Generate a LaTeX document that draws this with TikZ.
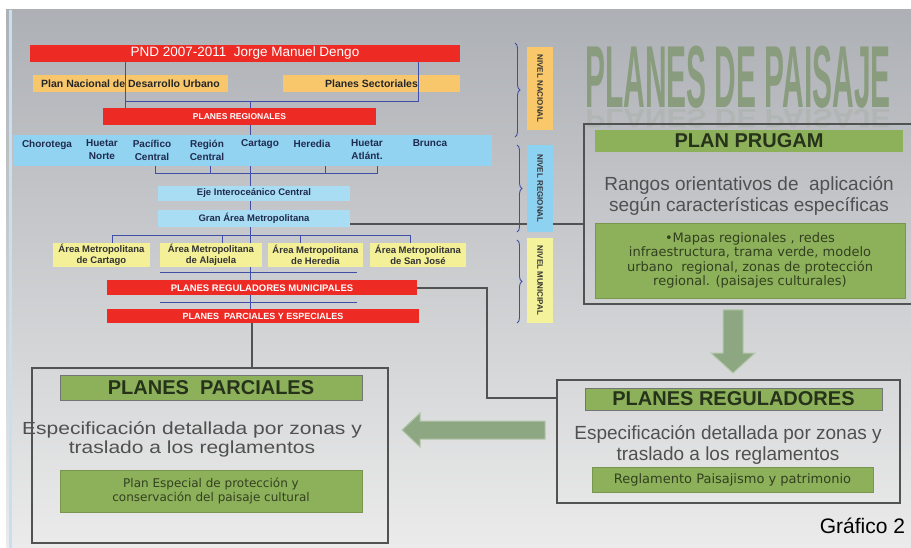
\documentclass[tikz,border=0pt]{standalone}
\usepackage{fontspec}
\setmainfont{Liberation Sans}
\newfontfamily\dvs{DejaVu Sans}
\usetikzlibrary{decorations.pathreplacing}
\definecolor{redc}{HTML}{EE2A24}
\definecolor{orc}{HTML}{F8C76C}
\definecolor{bandc}{HTML}{92D3F1}
\definecolor{lbc}{HTML}{A9DDF4}
\definecolor{ylc}{HTML}{F3F097}
\definecolor{linec}{HTML}{3F4FA8}
\definecolor{dgc}{HTML}{505352}
\definecolor{grnc}{HTML}{8DB15B}
\definecolor{hdrtxt}{HTML}{26321A}
\definecolor{gtxt}{HTML}{33401F}
\definecolor{bigtxt}{HTML}{505050}
\definecolor{arrc}{HTML}{8EA783}
\definecolor{arrdc}{HTML}{B4C6AA}
\definecolor{bgtop}{HTML}{ADB0B5}
\definecolor{bgmid}{HTML}{D5D6D8}
\definecolor{bgbot}{HTML}{EBEBEB}
\definecolor{titc}{HTML}{8A9C7E}
\definecolor{navtxt}{HTML}{1E2B4F}
\definecolor{stripc}{HTML}{C6E0F0}
\definecolor{stor}{HTML}{F9C86A}
\definecolor{stbl}{HTML}{8ED2F2}
\definecolor{styl}{HTML}{F4F29A}
\newcommand\fsz[2]{\fontsize{#1}{#2}\selectfont}
\begin{document}
\begin{tikzpicture}[x=1pt,y=-1pt,
 lbl/.style={inner sep=0pt, outer sep=0pt, align=center},
 redbar/.style={lbl, fill=redc, text=white, font=\bfseries\fsz{9}{10}},
 orbox/.style={lbl, fill=orc, text=black!85, font=\bfseries\fsz{10.5}{12}},
 lbbox/.style={lbl, fill=lbc, text=navtxt, font=\bfseries\fsz{9.5}{11}},
 ambox/.style={lbl, fill=ylc, text=black!80, font=\bfseries\fsz{9.5}{11.5}},
 region/.style={lbl, text=navtxt, font=\bfseries\fsz{10}{13}, anchor=north},
 conn/.style={draw=linec, line width=0.9pt},
 dconn/.style={draw=dgc, line width=1.8pt},
 bigbox/.style={draw=dgc, line width=1.8pt, inner sep=0pt},
 header/.style={lbl, fill=grnc, draw=dgc!80, line width=0.9pt, text=hdrtxt, font=\bfseries\fsz{20}{22}},
 gbox/.style={lbl, fill=grnc, draw=grnc!85!black, line width=0.5pt, text=gtxt, font=\dvs\fsz{13}{14.5}},
 bigtext/.style={lbl, text=bigtxt, font=\fsz{19}{21}},
 strip/.style={lbl, minimum height=26, font=\bfseries\fsz{8}{9}, text=black!80, rotate=-90},
 nbrace/.style={draw=linec, line width=0.9pt, decorate, decoration={brace, amplitude=5pt}},
 blockarrow/.style={fill=arrc, draw=arrdc, line width=1pt}
]
\useasboundingbox (0,0) rectangle (911,548);
\clip (0,0) rectangle (911,548);
% background
\fill[white] (0,0) rectangle (911,548);
\shade[top color=bgtop, middle color=bgmid, bottom color=bgbot] (6,10) rectangle (911,548);
\fill[stripc] (9,10) rectangle (12,548);

% title
\node[lbl, text=titc] (title) at (738,77) {\scalebox{0.34}[1]{\fsz{88}{88}\bfseries PLANES DE PAISAJE}};
\node[lbl, text=titc, opacity=0.18] (titref) at (738,119) {\scalebox{0.34}[-0.3]{\fsz{88}{88}\bfseries PLANES DE PAISAJE}};

% big boxes
\node[bigbox, minimum width=330, minimum height=180, anchor=north west] (prugam) at (583,123) {};
\node[bigbox, minimum width=343, minimum height=123] (regbox) at (728.5,441.5) {};
\node[bigbox, minimum width=356, minimum height=175] (parc) at (210,455.5) {};

% hierarchy nodes
\node[redbar, minimum width=430, minimum height=17, font=\fsz{13.5}{14}] (pnd) at (245,53.5) {PND 2007-2011\ \ Jorge Manuel Dengo};
\node[orbox, minimum width=195, minimum height=17] (pndu) at (130.5,83.5) {Plan Nacional de Desarrollo Urbano};
\node[orbox, minimum width=177, minimum height=17] (psec) at (371.5,83.5) {Planes Sectoriales};
\node[redbar, minimum width=273, minimum height=17, font=\bfseries\fsz{8.5}{9}] (preg) at (239.5,116.5) {PLANES REGIONALES};
\node[lbl, fill=bandc, minimum width=479, minimum height=31] (band) at (252.5,150.5) {};
\node[region] (chor) at (47,140) {Chorotega};
\node[region] (hnor) at (102,140) {Huetar\\Norte};
\node[region] (pcen) at (152,140) {Pacífico\\Central};
\node[region] (rcen) at (207,140) {Región\\Central};
\node[region] (cart) at (260,140) {Cartago};
\node[region] (here) at (312,140) {Heredia};
\node[region] (hatl) at (367,140) {Huetar\\Atlánt.};
\node[region] (brun) at (430,140) {Brunca};
\node[lbbox, minimum width=192, minimum height=15] (eje) at (254,193.5) {Eje Interoceánico Central};
\node[lbbox, minimum width=192, minimum height=17] (gam) at (254,218.5) {Gran Área Metropolitana};
\node[ambox, minimum width=97, minimum height=24] (am1) at (101.5,255) {Área Metropolitana\\de Cartago};
\node[ambox, minimum width=102, minimum height=24] (am2) at (211,255) {Área Metropolitana\\de Alajuela};
\node[ambox, minimum width=95, minimum height=24] (am3) at (315.5,255) {Área Metropolitana\\de Heredia};
\node[ambox, minimum width=96, minimum height=24] (am4) at (418,255) {Área Metropolitana\\de San José};
\node[redbar, minimum width=310, minimum height=15, font=\bfseries\fsz{9.5}{10}] (prm) at (262,288) {PLANES REGULADORES MUNICIPALES};
\node[redbar, minimum width=312, minimum height=14] (ppe) at (263,316.5) {PLANES\ \ PARCIALES Y ESPECIALES};

% blue connectors
\coordinate (busL) at (125,101);
\coordinate (busR) at (418,101);
\coordinate (busM) at (250,101);
\draw[conn] (pnd.south -| busL) -- (preg.north -| busL);
\draw[conn] (pnd.south -| busR) -- (busR) -- (busL);
\draw[conn] (busM) -- (preg.north -| busM);
\draw[conn] (preg.south -| busM) -- (band.north -| busM);
\coordinate (t1) at (155,173);
\coordinate (t2) at (210,173);
\coordinate (t3) at (325,173);
\coordinate (t4) at (377,173);
\draw[conn] (band.south -| t1) -- (t1) -- (t4) -- (band.south -| t4);
\draw[conn] (band.south -| t2) -- (t2);
\draw[conn] (band.south -| t3) -- (t3);
\draw[conn] (band.south -| busM) -- (eje.north -| busM);
\draw[conn] (eje.south -| busM) -- (gam.north -| busM);
\coordinate (a1) at (112,235);
\coordinate (a2) at (222,235);
\coordinate (a3) at (300,235);
\coordinate (a4) at (410,235);
\draw[conn] (gam.south -| busM) -- (am2.north -| busM);
\draw[conn] (am1.north -| a1) -- (a1) -- (a4) -- (am4.north -| a4);
\draw[conn] (a2) -- (am2.north -| a2);
\draw[conn] (a3) -- (am3.north -| a3);
\coordinate (h1l) at (160,272);
\coordinate (h1r) at (357,272);
\draw[conn] (h1l) -- (h1r);
\draw[conn] (am2.south -| busM) -- (prm.north -| busM);
\coordinate (h2l) at (160,302);
\coordinate (h2r) at (357,302);
\draw[conn] (h2l) -- (h2r);
\draw[conn] (prm.south -| busM) -- (ppe.north -| busM);

% dark connectors
\coordinate (pp) at (252,330);
\draw[dconn] (ppe.south -| pp) -- (parc.north -| pp);
\coordinate (g1) at (350,224);
\draw[dconn] (g1) -- (prugam.west |- g1);
\coordinate (k1) at (487,398);
\draw[dconn] (prm.east) -| (k1) -- (regbox.west |- k1);

% level braces and strips
\draw[nbrace] (515,43) -- (515,137);
\draw[nbrace] (517,145) -- (517,232);
\draw[nbrace] (517,240) -- (517,323);
\node[strip, fill=stor, minimum width=83] (nnac) at (540,88.5) {NIVEL NACIONAL};
\node[strip, fill=stbl, minimum width=87] (nreg) at (540,188.5) {NIVEL REGIONAL};
\node[strip, fill=styl, minimum width=85] (nmun) at (540,280.5) {NIVEL MUNICIPAL};

% PRUGAM contents
\node[header, minimum width=308, minimum height=22, draw=none] (hdr1) at (749,141) {PLAN PRUGAM};
\node[bigtext] (rang) at (749,196) {Rangos orientativos de\ \ aplicación\\según características específicas};
\node[gbox, minimum width=310, minimum height=75] (gb1) at (750,260.5) {•Mapas regionales , redes\\infraestructura, trama verde, modelo\\urbano\ \ regional, zonas de protección\\regional. (paisajes culturales)};

% Reguladores contents
\node[header, minimum width=297, minimum height=22] (hdr2) at (733.5,399) {PLANES REGULADORES};
\node[bigtext] (esp2) at (728,445) {Especificación detallada por zonas y\\traslado a los reglamentos};
\node[gbox, minimum width=281, minimum height=25] (gb2) at (732.5,479.5) {Reglamento Paisajismo y patrimonio};

% Parciales contents
\node[header, minimum width=302, minimum height=25] (hdr3) at (211,387.5) {PLANES\ \ PARCIALES};
\node[lbl, text=bigtxt] (esp3) at (192,440) {\scalebox{1.2}[1]{\fsz{17.5}{19}\begin{tabular}{@{}c@{}}Especificación detallada por zonas y\\traslado a los reglamentos\end{tabular}}};
\node[gbox, minimum width=302, minimum height=42, font=\dvs\fsz{12}{13.5}] (gb3) at (211,491) {Plan Especial de protección y\\conservación del paisaje cultural};

% block arrows
\draw[blockarrow] (723,310) -- (743,310) -- (743,353) -- (755,353) -- (733,373) -- (711,353) -- (723,353) -- cycle;
\draw[blockarrow] (545,421) -- (420,421) -- (420,413) -- (402,430) -- (420,447) -- (420,439) -- (545,439) -- cycle;

\node[lbl, anchor=base east, font=\fsz{21}{24}, text=black] (graf) at (905,533) {Gráfico 2};
\end{tikzpicture}
\end{document}
